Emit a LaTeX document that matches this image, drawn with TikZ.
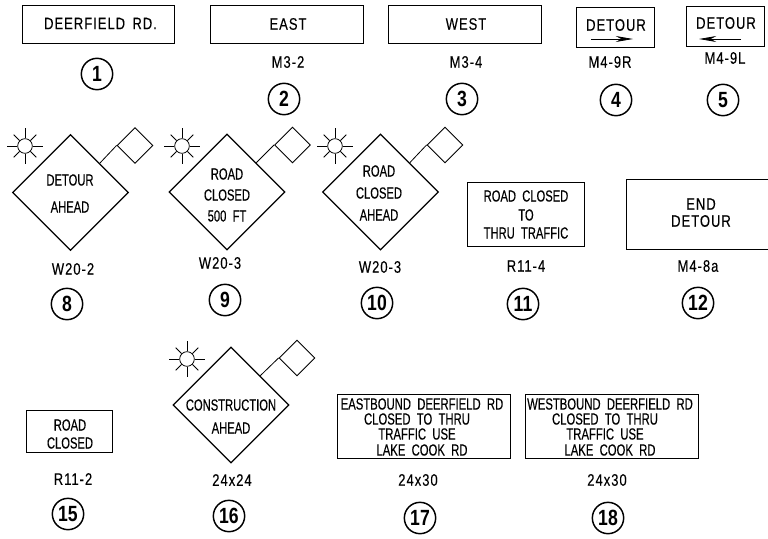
\documentclass[tikz,border=0pt]{standalone}
\usepackage{fontspec}
\setmainfont{Liberation Sans}
\newfontfamily\nfa[FakeStretch=0.70,WordSpace=2,FakeBold=0.3]{Liberation Sans}
\newfontfamily\nfb[FakeStretch=0.78,LetterSpace=6,WordSpace=1.6,FakeBold=0.2]{Liberation Sans}
\newfontfamily\nfn[FakeStretch=0.80]{Liberation Sans}
\usetikzlibrary{shapes.geometric,arrows.meta,calc}
\tikzset{
 px/.style={x=0.75pt,y=-0.75pt},
 sgn/.style={draw,line width=0.7pt,inner sep=0pt},
 stext/.style={inner sep=0pt,font=\nfb\fontsize{12.5pt}{12pt}\selectfont},
 ntext/.style={inner sep=0pt,font=\nfa\fontsize{12pt}{12pt}\selectfont},
 wtext/.style={inner sep=0pt,font=\nfa\fontsize{12.1pt}{12pt}\selectfont},
 lbl/.style={inner sep=0pt,font=\nfb\fontsize{12.5pt}{12pt}\selectfont},
 num/.style={draw,circle,line width=1.1pt,minimum size=23.5pt,inner sep=0pt,font=\nfn\fontsize{16.5pt}{16.5pt}\selectfont\bfseries},
 dia/.style={draw,diamond,line width=0.95pt,minimum size=87pt,inner sep=0pt,aspect=1},
 smalld/.style={draw,diamond,line width=0.7pt,minimum size=27pt,inner sep=0pt,aspect=1},
 sunc/.style={draw,circle,line width=0.6pt,minimum size=11pt,inner sep=0pt},
 link/.style={line width=0.6pt},
 arrw/.style={-{Stealth[length=13pt,width=4.5pt]},line width=0.6pt}
}
\newcommand{\sunat}[3]{%
 \node[sunc] (#1) at (#2,#3) {};
 \foreach \a in {0,90,180,270}{\draw[link] (#1.\a) -- ($(#1)+(\a:13.5pt)$);}
 \foreach \a in {45,135,225,315}{\draw[link] (#1.\a) -- ($(#1)+(\a:12pt)$);}
}
\begin{document}
\begin{tikzpicture}[px]
\useasboundingbox (0,0) rectangle (768,539);
\clip (0,0) rectangle (768,539);
% top row
\node[sgn,minimum width=114pt,minimum height=28.5pt] (s1) at (98,24) {};
\node[stext] (t1) at (100.5,23.5) {DEERFIELD RD.};
\node[num] (n1) at (97,74) {1};
\node[sgn,minimum width=114.7pt,minimum height=28pt] (s2) at (286.5,24.5) {};
\node[stext] (t2) at (288,24) {EAST};
\node[lbl] (l2) at (288,62) {M3-2};
\node[num] (n2) at (284,99) {2};
\node[sgn,minimum width=114.7pt,minimum height=28pt] (s3) at (464.5,24.5) {};
\node[stext] (t3) at (466,24) {WEST};
\node[lbl] (l3) at (466,62) {M3-4};
\node[num] (n3) at (462,99) {3};
\node[sgn,minimum width=58.5pt,minimum height=30.5pt] (s4) at (615,27.5) {};
\node[stext] (t4) at (616,25) {DETOUR};
\coordinate (a4a) at (591,39); \coordinate (a4b) at (633,39);
\draw[arrw] (a4a) -- (a4b);
\node[lbl] (l4) at (610,62) {M4-9R};
\node[num] (n4) at (616,100) {4};
\node[sgn,minimum width=58pt,minimum height=30.5pt] (s5) at (725.5,26.5) {};
\node[stext] (t5) at (726,23) {DETOUR};
\coordinate (a5a) at (741,39); \coordinate (a5b) at (699,39);
\draw[arrw] (a5a) -- (a5b);
\node[lbl] (l5) at (725,58) {M4-9L};
\node[num] (n5) at (723,100) {5};
% second row
\node[dia] (d8) at (70.5,192.5) {};
\node[smalld] (q8) at (135,145.5) {};
\draw[link] (d8.north east) -- (q8.west);
\sunat{u8}{25}{146}
\node[ntext] (t8a) at (70,180) {DETOUR};
\node[ntext] (t8b) at (70,207) {AHEAD};
\node[lbl] (l8) at (73,269) {W20-2};
\node[num] (n8) at (67,304) {8};
\node[dia] (d9) at (227,192) {};
\node[smalld] (q9) at (292.5,145) {};
\draw[link] (d9.north east) -- (q9.west);
\sunat{u9}{182}{146}
\node[ntext] (t9a) at (227,174) {ROAD};
\node[ntext] (t9b) at (227,195) {CLOSED};
\node[ntext] (t9c) at (227,216) {500 FT};
\node[lbl] (l9) at (220,263) {W20-3};
\node[num] (n9) at (225,300) {9};
\node[dia] (d10) at (380.5,192) {};
\node[smalld] (q10) at (445,145) {};
\draw[link] (d10.north east) -- (q10.west);
\sunat{u10}{335}{146}
\node[ntext] (t10a) at (379,171) {ROAD};
\node[ntext] (t10b) at (379,193) {CLOSED};
\node[ntext] (t10c) at (379,215) {AHEAD};
\node[lbl] (l10) at (380,267) {W20-3};
\node[num] (n10) at (377,303) {10};
\node[sgn,minimum width=87.7pt,minimum height=48pt] (s11) at (525.5,214) {};
\node[ntext] (t11a) at (526,196) {ROAD CLOSED};
\node[ntext] (t11b) at (526,215) {TO};
\node[ntext] (t11c) at (526,233) {THRU TRAFFIC};
\node[lbl] (l11) at (526,266) {R11-4};
\node[num] (n11) at (523,304) {11};
\node[sgn,minimum width=114pt,minimum height=52.5pt] (s12) at (702,214) {};
\node[stext] (t12a) at (701,204) {END};
\node[stext] (t12b) at (701,221) {DETOUR};
\node[lbl] (l12) at (698,266) {M4-8a};
\node[num] (n12) at (698,303) {12};
% third row
\node[sgn,minimum width=64.5pt,minimum height=32pt] (s15) at (69,431.5) {};
\node[ntext] (t15a) at (70,425) {ROAD};
\node[ntext] (t15b) at (70,443) {CLOSED};
\node[lbl] (l15) at (73,479) {R11-2};
\node[num] (n15) at (68,514) {15};
\node[dia] (d16) at (231,405) {};
\node[smalld] (q16) at (297,358) {};
\draw[link] (d16.north east) -- (q16.west);
\sunat{u16}{187}{359}
\node[ntext] (t16a) at (231,405) {CONSTRUCTION};
\node[ntext] (t16b) at (231,428) {AHEAD};
\node[lbl] (l16) at (232,480) {24x24};
\node[num] (n16) at (229,516) {16};
\node[sgn,minimum width=129.7pt,minimum height=48pt] (s17) at (423.5,426) {};
\node[wtext] (t17a) at (422,404) {EASTBOUND DEERFIELD RD};
\node[wtext] (t17b) at (417,419) {CLOSED TO THRU};
\node[wtext] (t17c) at (417,434) {TRAFFIC USE};
\node[wtext] (t17d) at (422,450) {LAKE COOK RD};
\node[lbl] (l17) at (418,480) {24x30};
\node[num] (n17) at (420,518) {17};
\node[sgn,minimum width=129.7pt,minimum height=48pt] (s18) at (611.5,426) {};
\node[wtext] (t18a) at (610,404) {WESTBOUND DEERFIELD RD};
\node[wtext] (t18b) at (605,419) {CLOSED TO THRU};
\node[wtext] (t18c) at (605,434) {TRAFFIC USE};
\node[wtext] (t18d) at (610,450) {LAKE COOK RD};
\node[lbl] (l18) at (607,480) {24x30};
\node[num] (n18) at (608,518) {18};
\end{tikzpicture}
\end{document}
